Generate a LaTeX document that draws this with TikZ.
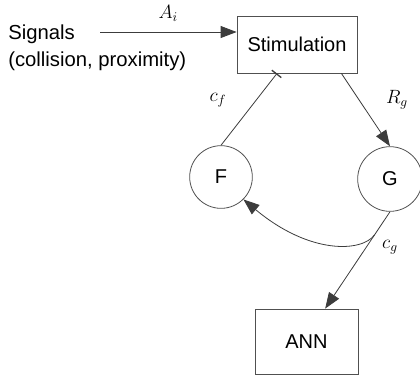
\documentclass[tikz,border=0pt]{standalone}
\usepackage{fontspec}
\setmainfont{Liberation Sans}
\usepackage{amsmath}
\usepackage{tikz}
\usetikzlibrary{arrows.meta}
\definecolor{linegray}{RGB}{60, 60, 60}
\definecolor{boxgray}{RGB}{80, 80, 80}

\begin{document}
\begin{tikzpicture}[x=0.75pt, y=-0.75pt,
        blockbox/.style={draw=boxgray, line width=0.6pt, rectangle, font=\fontsize{15pt}{19pt}\selectfont},
        unitcirc/.style={draw=boxgray, line width=0.6pt, circle, inner sep=0pt, font=\fontsize{15pt}{19pt}\selectfont},
        link/.style={draw=linegray, line width=0.6pt},
        tri/.style={-{Triangle[length=12pt, width=9pt]}},
        lbl/.style={font=\Large}]
        \useasboundingbox (0,0) rectangle (420,376);

        % Eingang
        \node[anchor=north west, align=left, inner sep=0pt, font=\fontsize{15.2pt}{20pt}\selectfont] (signals) at (8,25) {Signals\\(collision, proximity)};
        \coordinate (sigout) at (100,32);

        % Bloecke
        \node[blockbox, minimum width=90pt, minimum height=42.75pt] (stim) at (297,44.5) {Stimulation};
        \node[unitcirc, minimum size=47pt] (F) at (221,177) {F};
        \node[unitcirc, minimum size=48.5pt] (G) at (390,179) {G};
        \node[blockbox, minimum width=77.25pt, minimum height=48.75pt] (ann) at (306.5,341.5) {ANN};

        % Verbindungen
        \draw[link, tri] (sigout) -- (stim.west |- sigout) node[midway, above=4pt, lbl] {$A_i$};
        \draw[link, -{Bar[width=9pt, line width=1pt]}] (F.north) -- ([xshift=-15pt]stim.south);
        \draw[link, tri] ([xshift=-12pt]stim.south east) -- (G.north);
        \draw[link, tri] (G.south) -- coordinate[pos=0.24] (split) ([xshift=14pt]ann.north);
        \node[lbl] (cf) at (218,100) {$c_f$};
        \node[lbl] (rg) at (397,100) {$R_g$};
        \node[lbl] (cg) at (390,247) {$c_g$};

        % Rueckkopplung
        \draw[link, tri] (split) .. controls (362,252) and (310,255) .. (F.-45);
    \end{tikzpicture}
\end{document}
